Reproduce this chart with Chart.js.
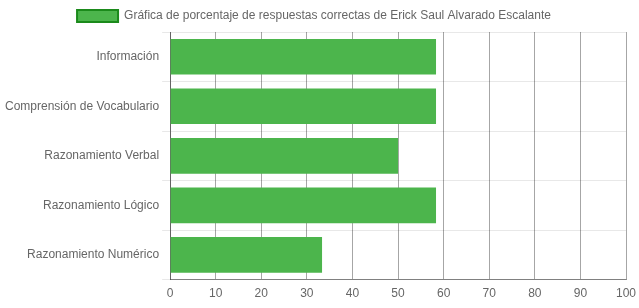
<!DOCTYPE html>
<html>
<head>
<meta charset="utf-8">
<script src="https://cdn.jsdelivr.net/npm/chart.js@4/dist/chart.umd.min.js"></script>
<style>
html,body{margin:0;padding:0;background:#fff;}
#wrap{width:639px;height:308px;position:relative;}
</style>
</head>
<body>
<div id="wrap"><canvas id="c"></canvas></div>
<script>
const categories = ["Información","Comprensión de Vocabulario","Razonamiento Verbal","Razonamiento Lógico","Razonamiento Numérico"];
const seriesLabel = "Gráfica de porcentaje de respuestas correctas de Erick Saul Alvarado Escalante";
const values = [58.33, 58.33, 50, 58.33, 33.33];
const xTicks = {min:0, max:100, step:10};

Chart.defaults.font.family = "'Liberation Sans', Arial, Helvetica, sans-serif";
Chart.defaults.font.size = 12;
Chart.defaults.color = "#666";

new Chart(document.getElementById('c'), {
  type: 'bar',
  data: {
    labels: categories,
    datasets: [{
      label: seriesLabel,
      data: values,
      backgroundColor: 'rgba(76,181,76,1)',
      borderColor: 'rgba(76,181,76,1)',
      borderWidth: 0
    }]
  },
  options: {
    indexAxis: 'y',
    responsive: true,
    maintainAspectRatio: false,
    animation: false,
    layout: {padding: {left: 2, right: 13}},
    plugins: {
      legend: {
        labels: {
          boxWidth: 41,
          boxHeight: 12,
          generateLabels: (chart) => {
            const items = Chart.defaults.plugins.legend.labels.generateLabels(chart);
            items.forEach(i => { i.lineWidth = 2; i.strokeStyle = '#1b8a1b'; i.fillStyle = 'rgba(76,181,76,1)'; });
            return items;
          }
        }
      },
      tooltip: {enabled: false}
    },
    scales: {
      x: {
        min: xTicks.min, max: xTicks.max,
        ticks: {stepSize: xTicks.step, padding: 7},
        grid: {color: 'rgba(0,0,0,0.35)', drawTicks: false},
        border: {color: 'rgba(0,0,0,0.45)'},
        afterFit: (s) => { s.paddingRight = 0; }
      },
      y: {
        grid: {color: 'rgba(0,0,0,0.09)', offset: true, tickLength: 8},
        border: {color: 'rgba(0,0,0,0.4)'}
      }
    }
  }
});
</script>
</body>
</html>
